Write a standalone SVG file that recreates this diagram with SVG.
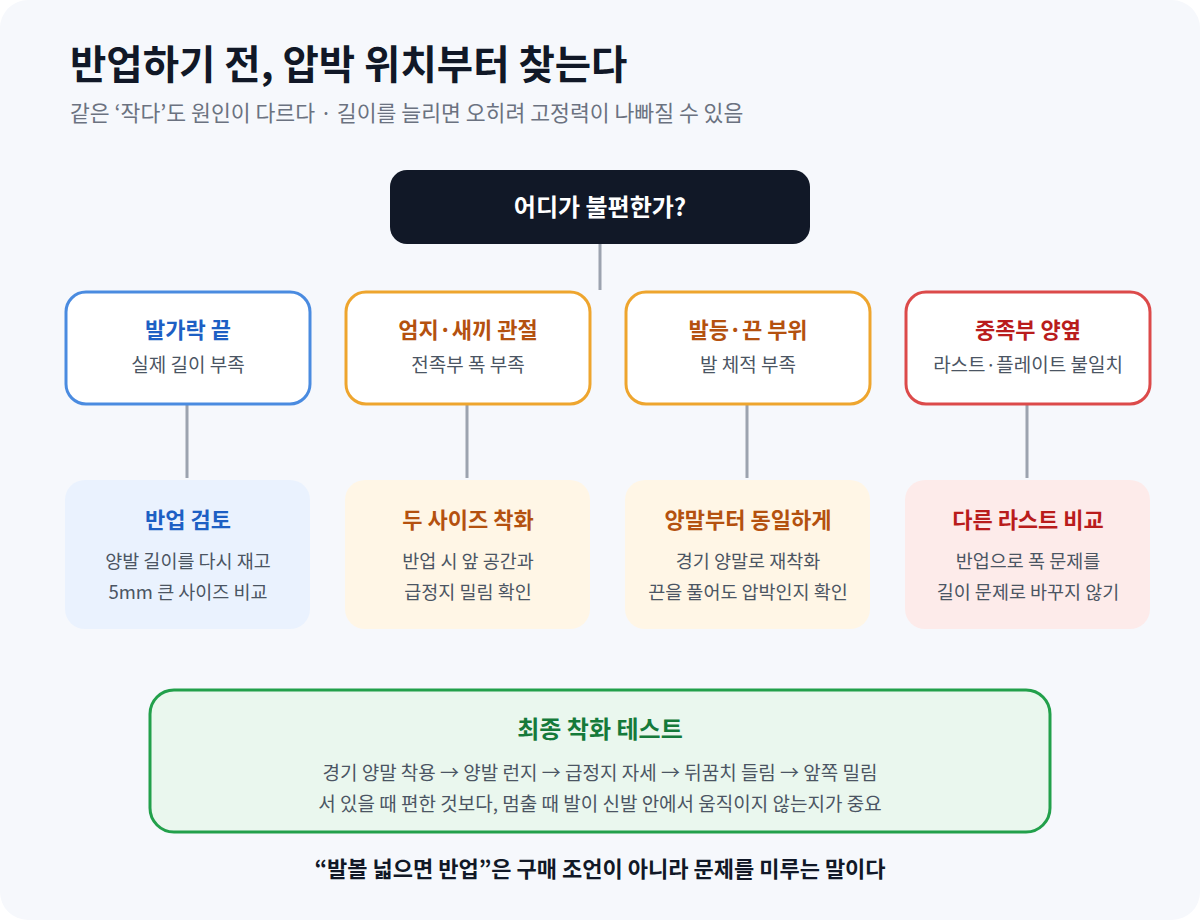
<svg xmlns="http://www.w3.org/2000/svg" width="1200" height="920" viewBox="0 0 1200 920">
<style>
text{font-family:"Noto Sans CJK KR","Noto Sans",sans-serif;text-anchor:middle}
.h{font-weight:700;font-size:22px}
.s{font-size:18.5px;fill:#4b5563}
.s1{font-size:19px;fill:#4b5563}
.blue{fill:#1d5fc4}.orange{fill:#b4510f}.red{fill:#b91c1c}
.conn line{stroke:#9ca3af;stroke-width:3}
</style>
<rect x="0" y="0" width="1200" height="920" rx="28" fill="#f6f8fc"/>
<text x="70" y="79" style="text-anchor:start;font-size:39.5px;font-weight:700;fill:#111827">반업하기 전, 압박 위치부터 찾는다</text>
<text x="70" y="121" style="text-anchor:start;font-size:21.6px;fill:#6b7280">같은 ‘작다’도 원인이 다르다 · 길이를 늘리면 오히려 고정력이 나빠질 수 있음</text>
<g class="conn">
<line x1="600" y1="243" x2="600" y2="290"/>
<line x1="187" y1="404" x2="187" y2="478"/>
<line x1="467" y1="404" x2="467" y2="478"/>
<line x1="747" y1="404" x2="747" y2="478"/>
<line x1="1027" y1="404" x2="1027" y2="478"/>
</g>
<g id="root">
<rect x="390" y="170" width="420" height="74" rx="17" fill="#111827"/>
<text x="600" y="216" class="h" style="fill:#fff;font-size:24px">어디가 불편한가?</text>
</g>
<g id="n1">
<rect x="66" y="292" width="244" height="112" rx="20" fill="#fff" stroke="#4a8be0" stroke-width="3"/>
<text x="188" y="338" class="h blue">발가락 끝</text>
<text x="188" y="372" class="s1">실제 길이 부족</text>
</g>
<g id="n2">
<rect x="346" y="292" width="244" height="112" rx="20" fill="#fff" stroke="#eea52e" stroke-width="3"/>
<text x="468" y="338" class="h orange">엄지·새끼 관절</text>
<text x="468" y="372" class="s1">전족부 폭 부족</text>
</g>
<g id="n3">
<rect x="626" y="292" width="244" height="112" rx="20" fill="#fff" stroke="#eea52e" stroke-width="3"/>
<text x="748" y="338" class="h orange">발등·끈 부위</text>
<text x="748" y="372" class="s1">발 체적 부족</text>
</g>
<g id="n4">
<rect x="906" y="292" width="244" height="112" rx="20" fill="#fff" stroke="#dc4a4a" stroke-width="3"/>
<text x="1028" y="338" class="h red">중족부 양옆</text>
<text x="1028" y="372" class="s1">라스트·플레이트 불일치</text>
</g>
<g id="a1">
<rect x="65" y="480" width="245" height="149" rx="20" fill="#eaf2fe"/>
<text x="188" y="528" class="h blue">반업 검토</text>
<text x="188" y="568" class="s">양발 길이를 다시 재고</text>
<text x="188" y="599" class="s">5mm 큰 사이즈 비교</text>
</g>
<g id="a2">
<rect x="345" y="480" width="245" height="149" rx="20" fill="#fff6e6"/>
<text x="468" y="528" class="h orange">두 사이즈 착화</text>
<text x="468" y="568" class="s">반업 시 앞 공간과</text>
<text x="468" y="599" class="s">급정지 밀림 확인</text>
</g>
<g id="a3">
<rect x="625" y="480" width="245" height="149" rx="20" fill="#fff6e6"/>
<text x="748" y="528" class="h orange">양말부터 동일하게</text>
<text x="748" y="568" class="s">경기 양말로 재착화</text>
<text x="748" y="599" class="s">끈을 풀어도 압박인지 확인</text>
</g>
<g id="a4">
<rect x="905" y="480" width="245" height="149" rx="20" fill="#fdebea"/>
<text x="1028" y="528" class="h red">다른 라스트 비교</text>
<text x="1028" y="568" class="s">반업으로 폭 문제를</text>
<text x="1028" y="599" class="s">길이 문제로 바꾸지 않기</text>
</g>
<g id="final">
<rect x="150" y="690" width="900" height="142" rx="24" fill="#eaf7ee" stroke="#22a04b" stroke-width="3"/>
<text x="600" y="738" class="h" style="fill:#157a3a;font-size:24px">최종 착화 테스트</text>
<text x="600" y="780" class="s1">경기 양말 착용 → 양발 런지 → 급정지 자세 → 뒤꿈치 들림 → 앞쪽 밀림</text>
<text x="600" y="811" class="s1">서 있을 때 편한 것보다, 멈출 때 발이 신발 안에서 움직이지 않는지가 중요</text>
</g>
<text x="600" y="877" style="font-size:22px;font-weight:700;fill:#111827">“발볼 넓으면 반업”은 구매 조언이 아니라 문제를 미루는 말이다</text>
</svg>
